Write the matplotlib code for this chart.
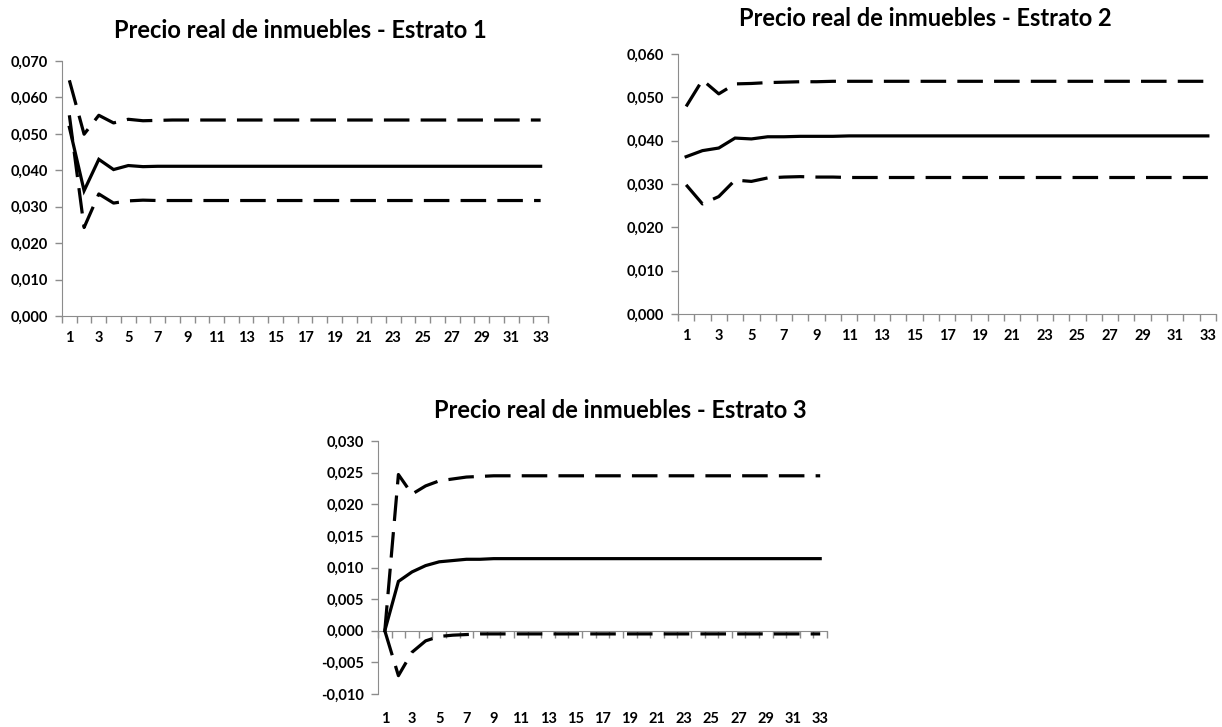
import matplotlib
matplotlib.use('Agg')
import matplotlib.pyplot as plt
import matplotlib.ticker as ticker
import numpy as np

plt.rc('font', family=['Lato', 'DejaVu Sans'], weight='bold')

periods = list(range(1, 34))

# Estrato 1: response and confidence bands
central_1 = [0.0518, 0.0344, 0.0430, 0.0402, 0.0413, 0.0410, 0.0411, 0.0411, 0.0411, 0.0411, 0.0411,
             0.0411, 0.0411, 0.0411, 0.0411, 0.0411, 0.0411, 0.0411, 0.0411, 0.0411, 0.0411, 0.0411,
             0.0411, 0.0411, 0.0411, 0.0411, 0.0411, 0.0411, 0.0411, 0.0411, 0.0411, 0.0411, 0.0411]
upper_1 = [0.0647, 0.0499, 0.0551, 0.0530, 0.0540, 0.0536, 0.0537, 0.0538, 0.0538, 0.0538, 0.0538,
           0.0538, 0.0538, 0.0538, 0.0538, 0.0538, 0.0538, 0.0538, 0.0538, 0.0538, 0.0538, 0.0538,
           0.0538, 0.0538, 0.0538, 0.0538, 0.0538, 0.0538, 0.0538, 0.0538, 0.0538, 0.0538, 0.0538]
lower_1 = [0.0551, 0.0243, 0.0335, 0.0310, 0.0316, 0.0318, 0.0317, 0.0317, 0.0317, 0.0317, 0.0317,
           0.0317, 0.0317, 0.0317, 0.0317, 0.0317, 0.0317, 0.0317, 0.0317, 0.0317, 0.0317, 0.0317,
           0.0317, 0.0317, 0.0317, 0.0317, 0.0317, 0.0317, 0.0317, 0.0317, 0.0317, 0.0317, 0.0317]

# Estrato 2
central_2 = [0.0363, 0.0377, 0.0383, 0.0406, 0.0404, 0.0409, 0.0409, 0.0410, 0.0410, 0.0410, 0.0411,
             0.0411, 0.0411, 0.0411, 0.0411, 0.0411, 0.0411, 0.0411, 0.0411, 0.0411, 0.0411, 0.0411,
             0.0411, 0.0411, 0.0411, 0.0411, 0.0411, 0.0411, 0.0411, 0.0411, 0.0411, 0.0411, 0.0411]
upper_2 = [0.0479, 0.0540, 0.0508, 0.0531, 0.0532, 0.0534, 0.0535, 0.0536, 0.0536, 0.0537, 0.0537,
           0.0537, 0.0537, 0.0537, 0.0537, 0.0537, 0.0537, 0.0537, 0.0537, 0.0537, 0.0537, 0.0537,
           0.0537, 0.0537, 0.0537, 0.0537, 0.0537, 0.0537, 0.0537, 0.0537, 0.0537, 0.0537, 0.0537]
lower_2 = [0.0298, 0.0254, 0.0271, 0.0309, 0.0306, 0.0314, 0.0316, 0.0317, 0.0316, 0.0316, 0.0315,
           0.0315, 0.0315, 0.0315, 0.0315, 0.0315, 0.0315, 0.0315, 0.0315, 0.0315, 0.0315, 0.0315,
           0.0315, 0.0315, 0.0315, 0.0315, 0.0315, 0.0315, 0.0315, 0.0315, 0.0315, 0.0315, 0.0315]

# Estrato 3
central_3 = [0.0, 0.0078, 0.0093, 0.0103, 0.0109, 0.0111, 0.0113, 0.0113, 0.0114, 0.0114, 0.0114,
             0.0114, 0.0114, 0.0114, 0.0114, 0.0114, 0.0114, 0.0114, 0.0114, 0.0114, 0.0114, 0.0114,
             0.0114, 0.0114, 0.0114, 0.0114, 0.0114, 0.0114, 0.0114, 0.0114, 0.0114, 0.0114, 0.0114]
upper_3 = [0.0, 0.0247, 0.0216, 0.0229, 0.0237, 0.0240, 0.0243, 0.0244, 0.0245, 0.0245, 0.0245,
           0.0245, 0.0245, 0.0245, 0.0245, 0.0245, 0.0245, 0.0245, 0.0245, 0.0245, 0.0245, 0.0245,
           0.0245, 0.0245, 0.0245, 0.0245, 0.0245, 0.0245, 0.0245, 0.0245, 0.0245, 0.0245, 0.0245]
lower_3 = [0.0, -0.0071, -0.0034, -0.0016, -0.0009, -0.0007, -0.0006, -0.0005, -0.0005, -0.0005, -0.0005,
           -0.0005, -0.0005, -0.0005, -0.0005, -0.0005, -0.0005, -0.0005, -0.0005, -0.0005, -0.0005, -0.0005,
           -0.0005, -0.0005, -0.0005, -0.0005, -0.0005, -0.0005, -0.0005, -0.0005, -0.0005, -0.0005, -0.0005]

titles = ['Precio real de inmuebles - Estrato 1',
          'Precio real de inmuebles - Estrato 2',
          'Precio real de inmuebles - Estrato 3']

axis_grey = '#8c8c8c'
dash = (0, (8, 3.5))

W, H = 1222, 727
fig = plt.figure(figsize=(W / 100, H / 100), dpi=100)


def px_axes(left, right, top, bottom):
    # axes box given in pixel coordinates from the top-left corner
    return fig.add_axes([left / W, 1 - bottom / H, (right - left) / W, (bottom - top) / H])


def comma_fmt(value, pos):
    return ('%.3f' % value).replace('.', ',').replace('-0,000', '0,000')


def style_axes(ax, ymin, ymax, ystep, zero_axis=False, label_pad=11):
    ax.set_xlim(0.5, len(periods) + 0.5)
    ax.set_ylim(ymin, ymax)
    ax.set_yticks(np.arange(ymin, ymax + ystep / 2, ystep))
    ax.yaxis.set_major_formatter(ticker.FuncFormatter(comma_fmt))
    ax.spines['top'].set_visible(False)
    ax.spines['right'].set_visible(False)
    ax.spines['left'].set_color(axis_grey)
    ax.spines['bottom'].set_color(axis_grey)
    ax.tick_params(axis='y', length=5, width=1, color=axis_grey, labelsize=10.5, pad=5)

    bounds = np.arange(0.5, len(periods) + 1, 1)
    ax.set_xticks(bounds)
    ax.set_xticklabels([])
    ax.set_xticks(periods[::2], minor=True)
    ax.set_xticklabels([str(p) for p in periods[::2]], minor=True)
    ax.tick_params(axis='x', which='minor', length=0, labelsize=10.5, pad=label_pad)
    ax.tick_params(axis='x', which='major', length=5, width=1, color=axis_grey)

    if zero_axis:
        # category axis crosses at zero, labels stay at the bottom
        ax.spines['bottom'].set_visible(False)
        ax.tick_params(axis='x', which='major', length=0)
        sec = ax.secondary_xaxis(0, transform=ax.transData)
        sec.set_xticks(bounds)
        sec.tick_params(axis='x', length=5, width=1, color=axis_grey, labelbottom=False)
        sec.spines['bottom'].set_color(axis_grey)


def draw(ax, central, upper, lower):
    ax.plot(periods, upper, color='black', lw=2.3, linestyle=dash)
    ax.plot(periods, lower, color='black', lw=2.3, linestyle=dash)
    ax.plot(periods, central, color='black', lw=2.3, solid_joinstyle='miter')


ax1 = px_axes(62, 548, 61, 316)
draw(ax1, central_1, upper_1, lower_1)
style_axes(ax1, 0.0, 0.070, 0.010)

ax2 = px_axes(678, 1216, 54, 314)
draw(ax2, central_2, upper_2, lower_2)
style_axes(ax2, 0.0, 0.060, 0.010)

ax3 = px_axes(378, 827, 441, 694)
draw(ax3, central_3, upper_3, lower_3)
style_axes(ax3, -0.010, 0.030, 0.005, zero_axis=True, label_pad=13)

fig.text(300 / W, 1 - 30 / H, titles[0], ha='center', va='center', fontsize=17, fontweight='bold')
fig.text(925 / W, 1 - 18 / H, titles[1], ha='center', va='center', fontsize=17, fontweight='bold')
fig.text(620 / W, 1 - 410 / H, titles[2], ha='center', va='center', fontsize=17, fontweight='bold')

plt.savefig('out.png', dpi=100)
